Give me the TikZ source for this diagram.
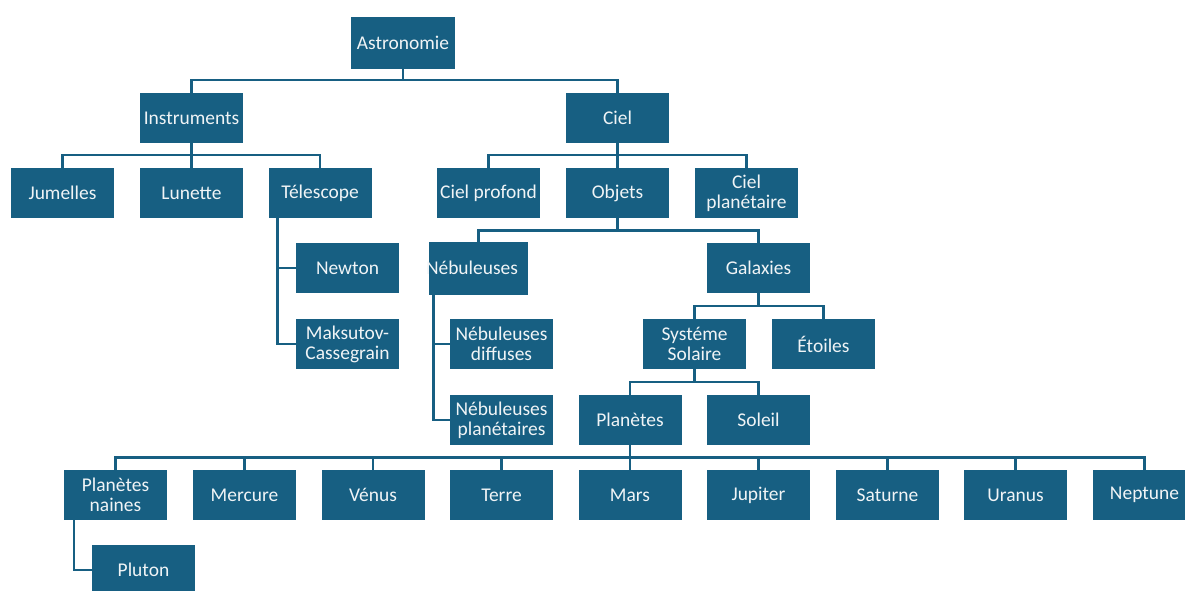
\documentclass[tikz,border=0pt]{standalone}
\usepackage{fontspec}
\setmainfont{Carlito}
\begin{document}
\definecolor{boxc}{RGB}{23,95,130}
\definecolor{txtc}{RGB}{240,244,246}
\begin{tikzpicture}[x=0.75pt,y=-0.75pt,
  box/.style={fill=boxc,text=txtc,minimum width=77.25pt,minimum height=37.5pt,inner sep=0pt,align=center,
    font=\fontsize{14.6}{15}\selectfont},
  conn/.style={draw=boxc,line width=2.2pt,line join=miter}]
\useasboundingbox (0,0) rectangle (1185,590);
% nodes
\node[box,minimum width=78pt,minimum height=39pt] (astro) at (403,43) {Astronomie};
\node[box] (instr) at (191.5,118) {Instruments};
\node[box] (ciel) at (617.5,118) {Ciel};
\node[box] (jum) at (62.5,193) {Jumelles};
\node[box] (lun) at (191.5,193) {Lunette};
\node[box] (tel) at (320,193) {Télescope};
\node[box] (cprof) at (488.5,193) {Ciel profond};
\node[box] (obj) at (617.5,193) {Objets};
\node[box] (cplan) at (746.5,193) {Ciel\\planétaire};
\node[box] (newton) at (347.5,268) {Newton};
\node[box] (maks) at (347.5,344) {Maksutov-\\Cassegrain};
\node[box,minimum width=74.25pt,minimum height=39.75pt] (neb) at (478.5,268.5) {};
\node[text=txtc,font=\fontsize{14.6}{15}\selectfont,inner sep=0pt] (nebt) at (472,268) {Nébuleuses};
\node[box] (gal) at (758.5,268) {Galaxies};
\node[box] (nebd) at (501.5,344) {Nébuleuses\\diffuses};
\node[box] (nebp) at (501.5,420) {Nébuleuses\\planétaires};
\node[box] (sys) at (694.5,344) {Systéme\\Solaire};
\node[box] (etoi) at (823.5,344) {Étoiles};
\node[box] (plan) at (630,420) {Planètes};
\node[box] (sol) at (758.5,420) {Soleil};
\node[box] (pnain) at (115.5,495) {Planètes\\naines};
\node[box] (merc) at (244.5,495) {Mercure};
\node[box] (ven) at (373,495) {Vénus};
\node[box] (terre) at (501.5,495) {Terre};
\node[box] (mars) at (630,495) {Mars};
\node[box] (jup) at (758.5,495) {Jupiter};
\node[box] (sat) at (887.5,495) {Saturne};
\node[box] (ura) at (1015.5,495) {Uranus};
\node[box] (nep) at (1144.5,495) {Neptune};
\node[box] (plut) at (143.5,570) {Pluton};
% bus levels and stems
\coordinate (b1) at (0,80);
\coordinate (b2) at (0,155);
\coordinate (b3) at (0,230.5);
\coordinate (b4) at (0,306);
\coordinate (b5) at (0,382);
\coordinate (b6) at (0,457.5);
\coordinate (ts) at (277.5,218);
\coordinate (ns) at (433.5,295);
\coordinate (ps) at (74,520);
% connectors
\draw[conn] (astro.south) -- (astro.south |- b1) -| (instr.north);
\draw[conn] (astro.south |- b1) -| (ciel.north);
\draw[conn] (instr.south) -- (instr.south |- b2) -| (jum.north);
\draw[conn] (instr.south |- b2) -| (tel.north);
\draw[conn] (instr.south |- b2) -- (lun.north);
\draw[conn] (ciel.south) -- (ciel.south |- b2) -| (cprof.north);
\draw[conn] (ciel.south |- b2) -| (cplan.north);
\draw[conn] (ciel.south |- b2) -- (obj.north);
\draw[conn] (obj.south) -- (obj.south |- b3) -| (neb.north);
\draw[conn] (obj.south |- b3) -| (gal.north);
\draw[conn] (gal.south) -- (gal.south |- b4) -| (sys.north);
\draw[conn] (gal.south |- b4) -| (etoi.north);
\draw[conn] (sys.south) -- (sys.south |- b5) -| (plan.north);
\draw[conn] (sys.south |- b5) -| (sol.north);
\draw[conn] (plan.south) -- (plan.south |- b6) -| (pnain.north);
\draw[conn] (plan.south |- b6) -| (nep.north);
\foreach \n in {merc,ven,terre,mars,jup,sat,ura}
  \draw[conn] (\n.north |- b6) -- (\n.north);
\draw[conn] (ts) |- (newton.west);
\draw[conn] (ts) |- (maks.west);
\draw[conn] (ns) |- (nebd.west);
\draw[conn] (ns) |- (nebp.west);
\draw[conn] (ps) |- (plut.west);
\end{tikzpicture}
\end{document}
